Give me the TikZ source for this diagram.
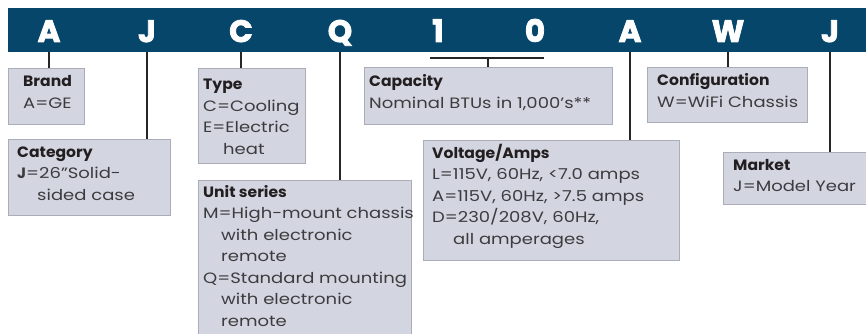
\documentclass[tikz,border=0pt]{standalone}
\usepackage{fontspec}
\setmainfont{Poppins}[FakeStretch=1.2, BoldFeatures={FakeStretch=1.04}]
\newfontfamily\bannerfont{Poppins}[BoldFeatures={FakeBold=2.5}]
\definecolor{banner}{RGB}{6,70,107}
\definecolor{boxfill}{RGB}{211,213,225}
\definecolor{boxline}{RGB}{170,172,184}
\definecolor{bodytext}{RGB}{60,60,62}
\definecolor{titletext}{RGB}{35,31,32}
\begin{document}
\begin{tikzpicture}[x=1pt,y=-1pt,
  infobox/.style={draw=boxline, fill=boxfill, line width=1pt, anchor=north west, inner sep=0pt},
  conn/.style={draw=black!85, line width=1.5pt},
  letter/.style={text=white, font=\bannerfont\fontsize{31}{31}\selectfont\bfseries, anchor=base, inner sep=0pt},
  txt/.style={text=bodytext, font=\fontsize{15}{21.5}\selectfont, anchor=base west, inner sep=0pt, align=left},
]
\useasboundingbox (0,0) rectangle (866,334);
% banner
\node[fill=banner, anchor=north west, inner sep=0pt, minimum width=858, minimum height=44] (banner) at (8,8) {};
\node[letter] (l1) at (49,42) {A};
\node[letter] (l2) at (147,42) {J};
\node[letter] (l3) at (241,42) {C};
\node[letter] (l4) at (340,42) {Q};
\node[letter] (l5) at (438,42) {1};
\node[letter] (l6) at (535,42) {0};
\node[letter] (l7) at (630,42) {A};
\node[letter] (l8) at (728,42) {W};
\node[letter] (l9) at (830,42) {J};
% boxes
\node[infobox, minimum width=76, minimum height=56] (brand) at (8,68) {};
\node[infobox, minimum width=162, minimum height=76] (category) at (8,139) {};
\node[infobox, minimum width=107, minimum height=95] (type) at (198,68) {};
\node[infobox, minimum width=213, minimum height=160] (unit) at (198,180) {};
\node[infobox, minimum width=248, minimum height=57] (capacity) at (364,67) {};
\node[infobox, minimum width=256, minimum height=120] (voltage) at (423,140) {};
\node[infobox, minimum width=160, minimum height=55] (config) at (647,67) {};
\node[infobox, minimum width=143, minimum height=52] (market) at (723,152) {};
% connectors
\draw[conn] (l1 |- banner.south) -- (l1 |- brand.north);
\draw[conn] (l2 |- banner.south) -- (l2 |- category.north);
\draw[conn] (l3 |- banner.south) -- (l3 |- type.north);
\draw[conn] (l4 |- banner.south) -- (l4 |- unit.north);
\coordinate (brL) at (430,58);
\coordinate (brR) at (544,58);
\coordinate (brM) at (488,58);
\draw[conn] (brL) -- (brR);
\draw[conn] (brM) -- (brM |- capacity.north);
\draw[conn] (l7 |- banner.south) -- (l7 |- voltage.north);
\draw[conn] (l8 |- banner.south) -- (l8 |- config.north);
\draw[conn] (l9 |- banner.south) -- (l9 |- market.north);
% texts (anchored at the baseline of the last line)
\node[txt] (tbrand) at (23,108.5) {\textcolor{titletext}{\bfseries Brand}\\A=GE};
\node[txt] (tcat) at (17,200) {\textcolor{titletext}{\bfseries Category}\\\textbf{J}=26”Solid-\\\hspace*{20pt}sided case};
\node[txt] (ttype) at (203,154) {\textcolor{titletext}{\bfseries Type}\\C=Cooling\\E=Electric\\\hspace*{20pt}heat};
\node[txt] (tunit) at (203,326) {\textcolor{titletext}{\bfseries Unit series}\\M=High-mount chassis\\\hspace*{18pt}with electronic\\\hspace*{18pt}remote\\Q=Standard mounting\\\hspace*{18pt}with electronic\\\hspace*{18pt}remote};
\node[txt] (tcap) at (369,108.5) {\textcolor{titletext}{\bfseries Capacity}\\Nominal BTUs in 1,000’s**};
\node[txt] (tvolt) at (432,244) {\textcolor{titletext}{\bfseries Voltage/Amps}\\L=115V, 60Hz, <7.0 amps\\A=115V, 60Hz, >7.5 amps\\D=230/208V, 60Hz,\\\hspace*{21pt}all amperages};
\node[txt] (tconf) at (657,107) {\textcolor{titletext}{\bfseries Configuration}\\W=WiFi Chassis};
\node[txt] (tmark) at (733,191.5) {\textcolor{titletext}{\bfseries Market}\\J=Model Year};
\end{tikzpicture}
\end{document}
